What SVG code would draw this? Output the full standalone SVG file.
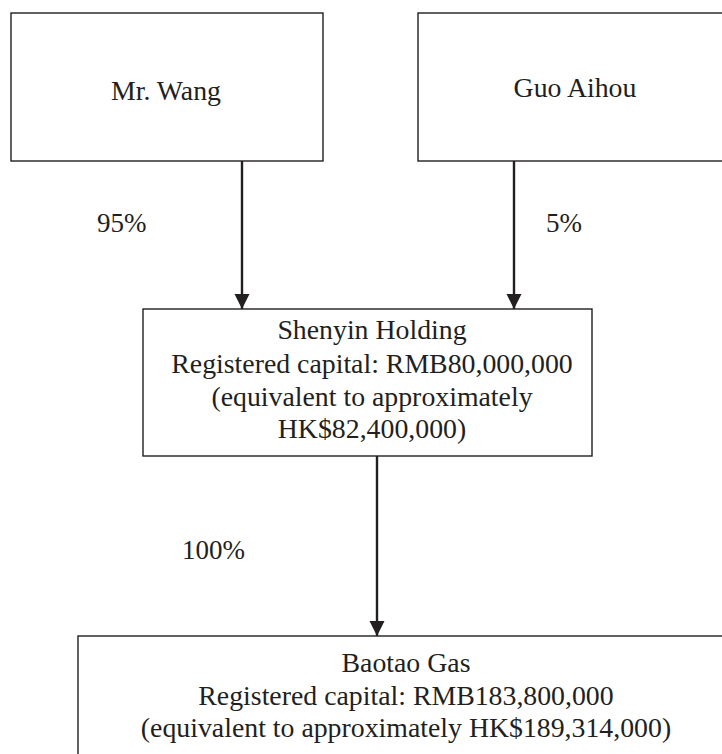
<svg xmlns="http://www.w3.org/2000/svg" width="722" height="754" viewBox="0 0 722 754">
<defs>
<style>
.box{fill:#fff;stroke:#231f20;stroke-width:1.4}
.t{font-family:"Liberation Serif","Times New Roman",serif;font-size:27.8px;fill:#231f20;text-anchor:middle}
.lbl{font-family:"Liberation Serif","Times New Roman",serif;font-size:27px;fill:#231f20}
.conn{stroke:#231f20;stroke-width:2.4;fill:none;marker-end:url(#ah)}
</style>
<marker id="ah" viewBox="0 0 10 10" refX="10" refY="5" markerUnits="userSpaceOnUse" markerWidth="15" markerHeight="16" orient="auto">
<path d="M0,0 L10,5 L0,10 Z" fill="#231f20"/>
</marker>
</defs>
<rect width="722" height="754" fill="#fff"/>
<g id="wang">
<rect class="box" x="11" y="13" width="312" height="148"/>
<text class="t" x="166" y="100">Mr. Wang</text>
</g>
<g id="guo">
<rect class="box" x="418" y="13" width="320" height="148"/>
<text class="t" x="575" y="97">Guo Aihou</text>
</g>
<g id="shenyin">
<rect class="box" x="143" y="309" width="449" height="147"/>
<text class="t" x="372" y="339">Shenyin Holding</text>
<text class="t" x="372" y="373">Registered capital: RMB80,000,000</text>
<text class="t" x="372" y="406">(equivalent to approximately</text>
<text class="t" x="372" y="438">HK$82,400,000)</text>
</g>
<g id="baotao">
<rect class="box" x="78" y="636" width="660" height="130"/>
<text class="t" x="406" y="672">Baotao Gas</text>
<text class="t" x="406" y="705">Registered capital: RMB183,800,000</text>
<text class="t" x="406" y="737">(equivalent to approximately HK$189,314,000)</text>
</g>
<g id="connectors">
<line class="conn" x1="242" y1="161" x2="242" y2="309"/>
<line class="conn" x1="514" y1="161" x2="514" y2="309"/>
<line class="conn" x1="377" y1="456" x2="377" y2="636"/>
<text class="lbl" x="97" y="232">95%</text>
<text class="lbl" x="546" y="232">5%</text>
<text class="lbl" x="182" y="559">100%</text>
</g>
</svg>
